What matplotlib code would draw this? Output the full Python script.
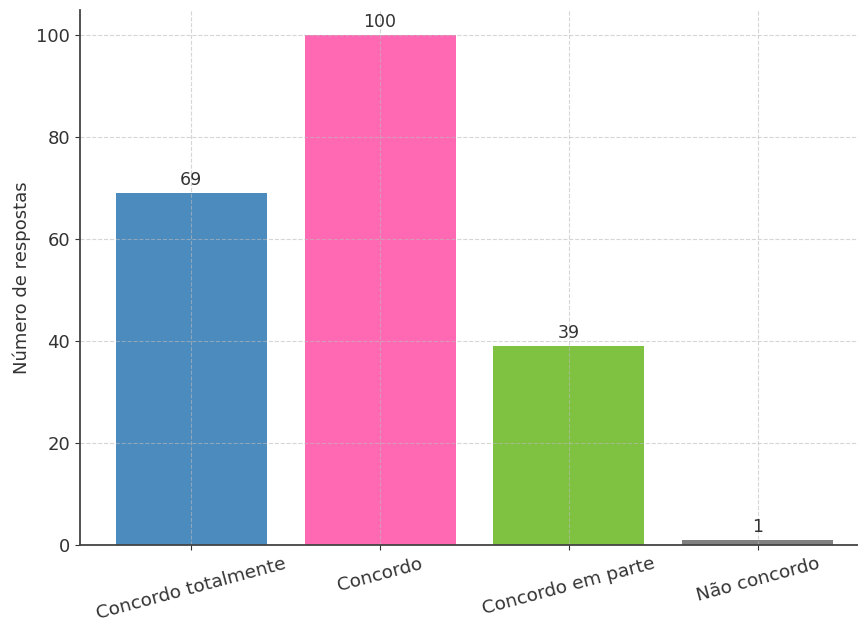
import matplotlib
matplotlib.use("Agg")
import matplotlib.pyplot as plt

categories = ["Concordo totalmente", "Concordo", "Concordo em parte", "Não concordo"]
counts = [69, 100, 39, 1]
colors = ["#4b8bbe", "#ff69b4", "#7fc241", "#808080"]

plt.rcParams["font.family"] = ["DejaVu Sans"]
text_color = "#333333"

fig = plt.figure(figsize=(8.58, 6.3), dpi=100)
ax = fig.add_axes([80 / 858, 85 / 630, 789 / 858, 535 / 630])

x = list(range(len(categories)))
bars = ax.bar(x, counts, color=colors, width=0.8, zorder=2)

for xi, v in zip(x, counts):
    ax.annotate(str(v), (xi, v), xytext=(0, 3), textcoords="offset points",
                ha="center", va="bottom", fontsize=12.5, color=text_color, zorder=4)

ax.set_xticks(x)
ax.set_xticklabels(categories, rotation=15, fontsize=13.3, color=text_color)
ax.set_ylabel("Número de respostas", fontsize=13, color=text_color)
ax.tick_params(axis="y", labelsize=13, colors=text_color)
ax.tick_params(axis="x", colors=text_color)
ax.set_ylim(0, 105)
ax.set_xlim(-0.59, 3.59)

ax.set_axisbelow(False)
ax.grid(True, linestyle="--", color="#bbbbbb", linewidth=0.8, alpha=0.6, zorder=3)
for s in ["top", "right"]:
    ax.spines[s].set_visible(False)
for s in ["left", "bottom"]:
    ax.spines[s].set_color("#444444")
    ax.spines[s].set_linewidth(1.3)
    ax.spines[s].set_zorder(5)

fig.savefig("out.png", dpi=100)
